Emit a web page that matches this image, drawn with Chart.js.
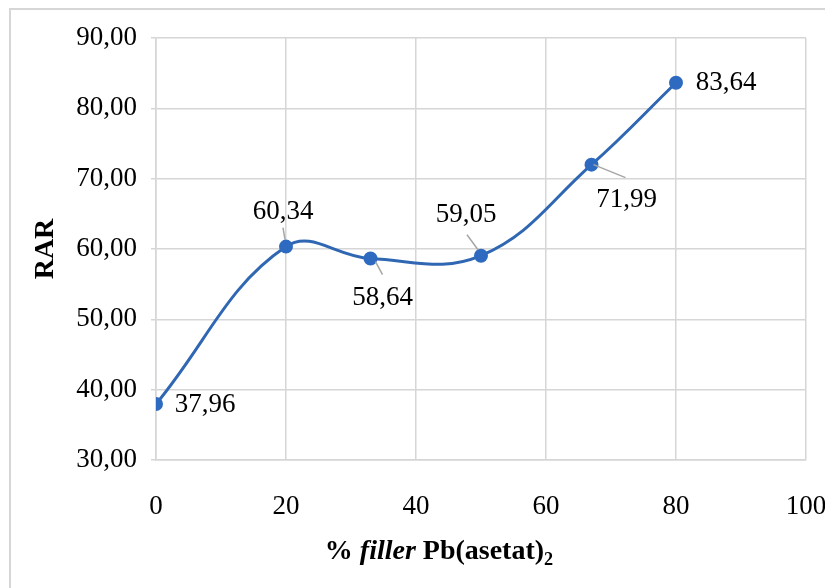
<!DOCTYPE html>
<html>
<head>
<meta charset="utf-8">
<script src="https://cdn.jsdelivr.net/npm/chart.js@4.4.1/dist/chart.umd.min.js"></script>
<style>
  html, body { margin: 0; padding: 0; background: #ffffff; overflow: hidden; }
  #wrap { position: relative; width: 825px; height: 588px; overflow: hidden; }
  #frame { position: absolute; left: 9px; top: 8px; width: 900px; height: 700px; border: 2px solid #d6d6d6; box-sizing: border-box; }
  canvas { position: absolute; left: 0; top: 0; }
</style>
</head>
<body>
<div id="wrap">
  <div id="frame"></div>
  <canvas id="c" width="825" height="588"></canvas>
</div>
<script>
// ---- data ----
const fillerPercent = [0, 20, 33, 50, 67, 80];
const rarValues = [37.96, 60.34, 58.64, 59.05, 71.99, 83.64];
const xTickValues = [0, 20, 40, 60, 80, 100];
const yTickValues = [30, 40, 50, 60, 70, 80, 90];
const yAxisTitle = 'RAR';
const xAxisTitleParts = [
  { text: '% ', style: 'bold' },
  { text: 'filler', style: 'italic bold' },
  { text: ' Pb(asetat)', style: 'bold' },
  { text: '2', style: 'bold', sub: true }
];

const FONT = '"Liberation Serif", "Times New Roman", serif';
const fmt = v => v.toFixed(2).replace('.', ',');

// label placement (style): label centre offsets and leader line offsets relative to each point
const labelLayout = [
  { dx: 49, dy: 1 },
  { dx: -3, dy: -35, lead: [-1, -7, -3, -19] },
  { dx: 12, dy: 39, lead: [5, 3, 12, 16] },
  { dx: -15, dy: -41, lead: [-3, -6, -14, -21] },
  { dx: 35, dy: 35, lead: [2, 0, 34, 13] },
  { dx: 50, dy: 0 }
];

const labelPlugin = {
  id: 'pointLabels',
  afterDatasetsDraw(chart) {
    const ctx = chart.ctx;
    const meta = chart.getDatasetMeta(0);
    ctx.save();
    meta.data.forEach((pt, i) => {
      const L = labelLayout[i];
      if (L.lead) {
        ctx.strokeStyle = '#a6a6a6';
        ctx.lineWidth = 1.5;
        ctx.beginPath();
        ctx.moveTo(pt.x + L.lead[0], pt.y + L.lead[1]);
        ctx.lineTo(pt.x + L.lead[2], pt.y + L.lead[3]);
        ctx.stroke();
      }
      ctx.fillStyle = '#000000';
      ctx.font = '27px ' + FONT;
      ctx.textAlign = 'center';
      ctx.textBaseline = 'middle';
      ctx.fillText(fmt(rarValues[i]), pt.x + L.dx, pt.y + L.dy);
    });
    ctx.restore();
  }
};

const xTitlePlugin = {
  id: 'xTitle',
  afterDraw(chart) {
    const ctx = chart.ctx;
    ctx.save();
    const size = 28;
    let total = 0;
    const widths = xAxisTitleParts.map(p => {
      ctx.font = p.style + ' ' + (p.sub ? size * 0.65 : size) + 'px ' + FONT;
      const w = ctx.measureText(p.text).width;
      total += w;
      return w;
    });
    const cx = 439, cy = 552;
    let x = cx - total / 2;
    ctx.fillStyle = '#000000';
    ctx.textAlign = 'left';
    ctx.textBaseline = 'middle';
    xAxisTitleParts.forEach((p, i) => {
      ctx.font = p.style + ' ' + (p.sub ? size * 0.65 : size) + 'px ' + FONT;
      ctx.fillText(p.text, x, p.sub ? cy + 8 : cy);
      x += widths[i];
    });
    ctx.restore();
  }
};

const lineColor = '#2F67B3';

new Chart(document.getElementById('c'), {
  type: 'line',
  data: {
    datasets: [{
      data: fillerPercent.map((x, i) => ({ x: x, y: rarValues[i] })),
      borderColor: lineColor,
      backgroundColor: lineColor,
      borderWidth: 3,
      pointRadius: 5.5,
      pointHoverRadius: 5.5,
      pointBackgroundColor: '#2E6BC0',
      pointBorderColor: '#2E6BC0',
      tension: 0.4,
      fill: false
    }]
  },
  options: {
    responsive: false,
    animation: false,
    devicePixelRatio: 1,
    layout: { padding: { left: 0, right: 19, top: 38, bottom: 0 } },
    plugins: { legend: { display: false }, tooltip: { enabled: false } },
    scales: {
      x: {
        type: 'linear',
        min: 0, max: 100,
        afterBuildTicks: s => { s.ticks = xTickValues.map(v => ({ value: v })); },
        afterFit: s => { s.height = 128; s.paddingLeft = 0; s.paddingRight = 0; },
        grid: { color: '#d6d6d6', lineWidth: 1.5, drawTicks: false },
        border: { color: '#d6d6d6', width: 1.5 },
        ticks: { color: '#000', font: { family: FONT, size: 27 }, padding: 31, maxRotation: 0, callback: v => String(v) }
      },
      y: {
        type: 'linear',
        min: 30, max: 90,
        afterBuildTicks: s => { s.ticks = yTickValues.map(v => ({ value: v })); },
        afterFit: s => { s.width = 156; s.paddingTop = 0; s.paddingBottom = 0; },
        grid: { color: '#d6d6d6', lineWidth: 1.5, tickLength: 5 },
        border: { color: '#d6d6d6', width: 1.5 },
        ticks: { color: '#000', font: { family: FONT, size: 27 }, padding: 14, callback: v => fmt(v) },
        title: { display: true, text: yAxisTitle, color: '#000', font: { family: FONT, size: 28, weight: 'bold' }, padding: { top: 29, bottom: 0 } }
      }
    }
  },
  plugins: [labelPlugin, xTitlePlugin]
});
</script>
</body>
</html>
